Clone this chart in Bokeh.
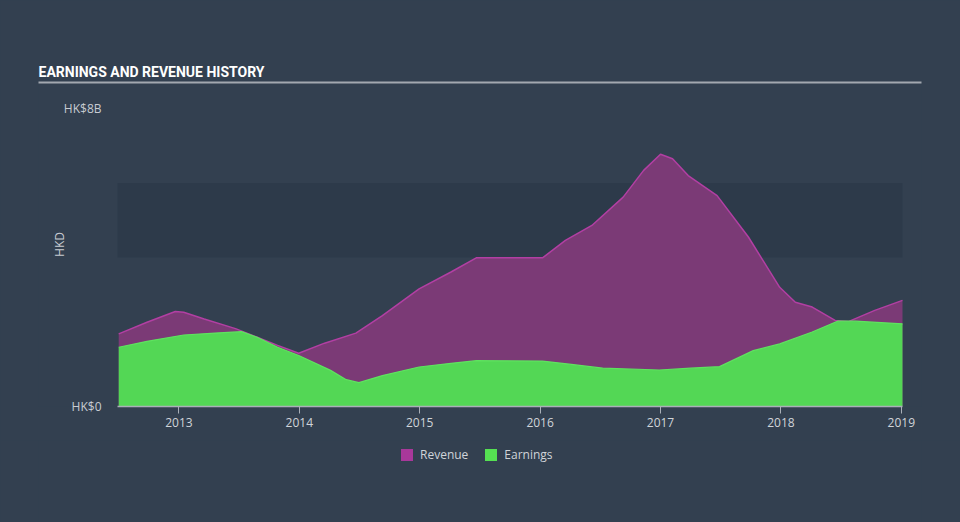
from bokeh.plotting import figure
from bokeh.layouts import column
from bokeh.models import (ColumnDataSource, FixedTicker, BoxAnnotation,
                          Legend, LegendItem, Range1d, LinearAxis)
from bokeh.embed import file_html
from bokeh.resources import INLINE

# ---- data (HK$ billions, fractional years) ----
rev_x = [2012.50, 2012.735, 2012.97, 2013.04, 2013.21, 2013.47, 2013.65, 2013.82,
         2013.995, 2014.21, 2014.47, 2014.69, 2014.995, 2015.26, 2015.47, 2016.02,
         2016.21, 2016.43, 2016.69, 2016.86, 2017.0, 2017.10, 2017.23, 2017.47,
         2017.73, 2017.99, 2018.12, 2018.26, 2018.45, 2018.56, 2018.78, 2019.01]
rev_y = [1.95, 2.26, 2.55, 2.53, 2.35, 2.09, 1.86, 1.64,
         1.43, 1.70, 1.97, 2.44, 3.16, 3.61, 3.99, 3.99,
         4.46, 4.86, 5.62, 6.34, 6.77, 6.65, 6.20, 5.66,
         4.55, 3.20, 2.80, 2.67, 2.31, 2.28, 2.58, 2.85]

earn_x = [2012.50, 2012.735, 2013.04, 2013.30, 2013.52, 2013.65, 2013.82, 2013.995,
          2014.26, 2014.39, 2014.495, 2014.69, 2014.995, 2015.26, 2015.47, 2016.02,
          2016.26, 2016.52, 2016.99, 2017.25, 2017.49, 2017.77, 2017.99, 2018.26,
          2018.47, 2018.62, 2019.01]
earn_y = [1.59, 1.75, 1.92, 1.97, 2.01, 1.86, 1.59, 1.37,
          0.97, 0.72, 0.64, 0.83, 1.06, 1.16, 1.23, 1.22,
          1.13, 1.03, 0.98, 1.03, 1.07, 1.50, 1.68, 2.00,
          2.29, 2.29, 2.22]

year_ticks = [2013, 2014, 2015, 2016, 2017, 2018, 2019]
y_ticks = [0, 8]
y_tick_labels = {0: "HK$0", 8: "HK$8B"}
series_names = ["Revenue", "Earnings"]
title_text = "EARNINGS AND REVENUE HISTORY"

BG = "#334050"
REV_FILL, REV_LINE, REV_KEY = "#7b3a76", "#b23fa3", "#a8389a"
EARN_FILL, EARN_LINE, EARN_KEY = "#53d755", "#5ee35f", "#55e052"
TXT = "#d0d4d9"

W = 960
H_MAIN, H_LEG = 440, 82
FL, FR = 38, 921            # frame spans the title rule
X0, X1 = 2012.49, 2019.01   # data area 117..902 px
PX_PER_YEAR = (902 - 117) / (X1 - X0)
PX_PER_B = (406 - 108) / 8.0

p = figure(width=W, height=H_MAIN, output_backend="svg", toolbar_location=None,
           x_range=Range1d(X0 - (117 - FL) / PX_PER_YEAR, X1 + (FR - 902) / PX_PER_YEAR),
           y_range=Range1d(0, 8 + (108 - 82) / PX_PER_B),
           min_border_left=FL, min_border_right=W - FR,
           min_border_top=82, min_border_bottom=H_MAIN - 406,
           background_fill_color=BG, border_fill_color=BG)
p.outline_line_color = None
p.grid.visible = False

# title
p.title.text = title_text
p.title.align = "left"
p.title.offset = 0
p.title.text_color = "#ffffff"
p.title.text_font = "Roboto"
p.title.text_font_style = "bold"
p.title.text_font_size = "14px"
p.title.standoff = 6

# rule under the title, drawn as a bare top axis
top_axis = LinearAxis(ticker=FixedTicker(ticks=[]),
                      axis_line_color="#a3a8b0", axis_line_width=2,
                      major_tick_line_color=None, minor_tick_line_color=None,
                      major_tick_out=0, major_tick_in=0, major_label_standoff=0,
                      major_label_text_font_size="0px")
p.add_layout(top_axis, "above")

# band 4B-6B over the data area
p.add_layout(BoxAnnotation(bottom=4, top=6, left=X0, right=X1,
                           fill_color="#2d3a4a", fill_alpha=1.0,
                           line_color=None, level="underlay"))

rev_src = ColumnDataSource(dict(x=rev_x, y=rev_y))
earn_src = ColumnDataSource(dict(x=earn_x, y=earn_y))

p.varea(x="x", y1=0, y2="y", source=rev_src, fill_color=REV_FILL, fill_alpha=1.0)
p.line(x="x", y="y", source=rev_src, line_color=REV_LINE, line_width=1.5)
p.varea(x="x", y1=0, y2="y", source=earn_src, fill_color=EARN_FILL, fill_alpha=1.0)
p.line(x="x", y="y", source=earn_src, line_color=EARN_LINE, line_width=1.2)

ax = p.below[0]
ax.ticker = FixedTicker(ticks=year_ticks)
ax.bounds = (X0, X1)
ax.axis_line_color = "#aab0b8"
ax.axis_line_width = 1.5
ax.major_tick_line_color = "#aab0b8"
ax.major_tick_in = 0
ax.major_tick_out = 7
ax.minor_tick_line_color = None
ax.major_label_text_color = TXT
ax.major_label_text_font = "Open Sans"
ax.major_label_text_font_size = "12px"
ax.major_label_standoff = 4

ay = p.left[0]
ay.ticker = FixedTicker(ticks=y_ticks)
ay.major_label_overrides = y_tick_labels
ay.axis_line_color = None
ay.major_tick_line_color = None
ay.minor_tick_line_color = None
ay.major_label_standoff = -69
ay.major_label_text_color = "#c8ccd2"
ay.major_label_text_font = "Open Sans"
ay.major_label_text_font_size = "12px"
ay.axis_label = "HKD"
ay.axis_label_text_color = "#c8ccd2"
ay.axis_label_text_font = "Open Sans"
ay.axis_label_text_font_size = "12px"
ay.axis_label_text_font_style = "normal"
ay.axis_label_standoff = -7

# legend in its own strip below (frame aligned with the main plot's frame)
lf = figure(width=W, height=H_LEG, output_backend="svg", toolbar_location=None,
            x_range=Range1d(0, 1), y_range=Range1d(0, 1),
            min_border=0, background_fill_color=BG, border_fill_color=BG)
lf.outline_line_color = None
lf.axis.visible = False
lf.grid.visible = False
k1 = lf.varea(x=[-3, -2], y1=[-3, -3], y2=[-2, -2], fill_color=REV_KEY, fill_alpha=1.0)
k2 = lf.varea(x=[-3, -2], y1=[-3, -3], y2=[-2, -2], fill_color=EARN_KEY, fill_alpha=1.0)
leg = Legend(items=[LegendItem(label=series_names[0], renderers=[k1]),
                    LegendItem(label=series_names[1], renderers=[k2])],
             orientation="horizontal", location=(399 - FL, 522 - 463),
             margin=0, padding=0,
             background_fill_alpha=0, border_line_color=None,
             label_text_color=TXT, label_text_font="Open Sans",
             label_text_font_size="12px", glyph_width=15, glyph_height=15,
             spacing=15, label_standoff=6, label_height=15)
lf.add_layout(leg, "center")

layout = column(p, lf, spacing=0)
html = file_html(layout, INLINE)
html = html.replace("<head>", "<head><style>html,body{background:%s;margin:0;}</style>" % BG, 1)
open("out.html", "w").write(html)
